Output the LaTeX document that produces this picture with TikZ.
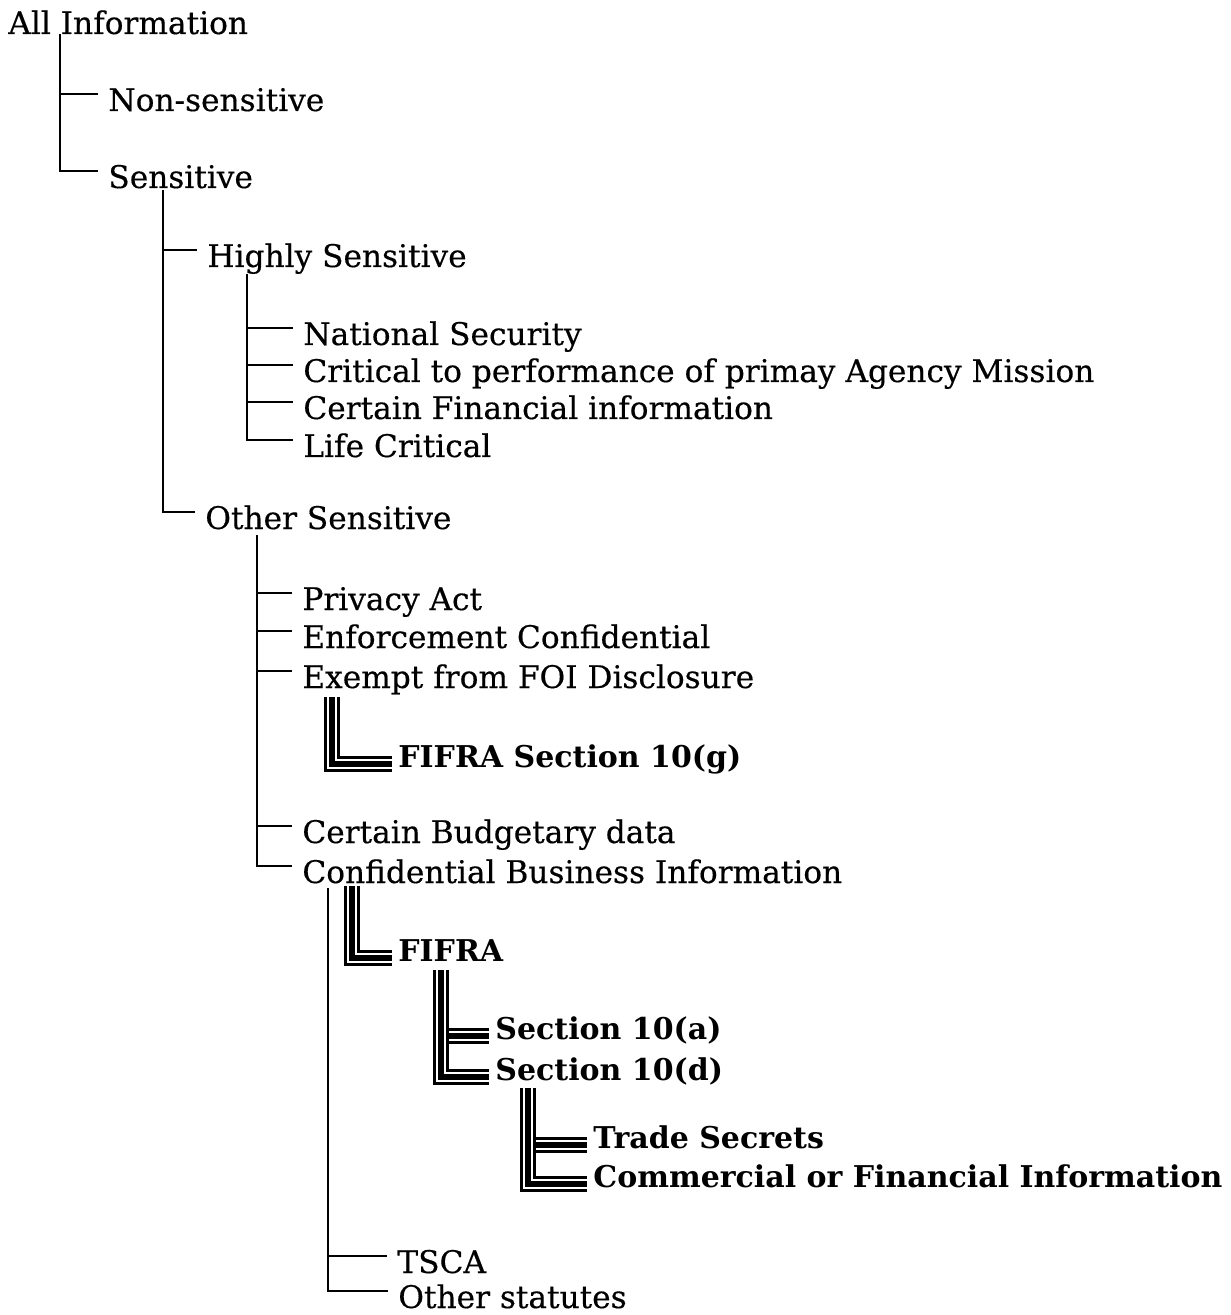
\documentclass[tikz,border=0pt]{standalone}
\usepackage{fontspec}
\setmainfont{DejaVu Serif}[UprightFeatures={FakeBold=0.4}]

\newcommand{\entryfont}{\fontsize{15.6}{18}\selectfont}
\newcommand{\subfont}{\fontsize{15}{18}\selectfont\bfseries}

\tikzset{
  entry/.style={anchor=base west, inner xsep=5pt, inner ysep=0pt,
                text height=17pt, text depth=0pt, font=\entryfont},
  subentry/.style={entry, inner xsep=3pt, text height=3pt, font=\subfont},
  branch/.style={line width=1.4pt},
  triple/.style={draw=white, line width=5pt,
                 preaction={draw=black, line width=8pt},
                 postaction={draw=black, line width=3pt}},
}

\begin{document}
\begin{tikzpicture}[x=0.5pt, y=-0.5pt]
    \useasboundingbox (0,0) rectangle (1230,1315);

    %% top level
    \node[entry] (allinfo) at (-2,34) {All Information};
    \coordinate (allinfo-stem) at (60,34);
    \node[entry] (nonsens) at (98,111) {Non-sensitive};
    \node[entry] (sens) at (98,188) {Sensitive};
    \draw[branch] (allinfo-stem |- nonsens.west) -- (nonsens.west);
    \draw[branch] (allinfo-stem) |- (sens.west);

    %% sensitive
    \coordinate (sens-stem) at (163,190);
    \node[entry] (highly) at (197,267) {Highly Sensitive};
    \node[entry] (other) at (195,529) {Other Sensitive};
    \draw[branch] (sens-stem |- highly.west) -- (highly.west);
    \draw[branch] (sens-stem) |- (other.west);

    %% highly sensitive
    \coordinate (highly-stem) at (247,274);
    \node[entry] (natsec) at (293,345) {National Security};
    \node[entry] (critical) at (293,382) {Critical to performance of primay Agency Mission};
    \node[entry] (finance) at (293,419) {Certain Financial information};
    \node[entry] (life) at (293,457) {Life Critical};
    \foreach \n in {natsec, critical, finance}
      \draw[branch] (highly-stem |- \n.west) -- (\n.west);
    \draw[branch] (highly-stem) |- (life.west);

    %% other sensitive
    \coordinate (other-stem) at (257,535);
    \node[entry] (privacy) at (292,610) {Privacy Act};
    \node[entry] (enforce) at (292,648) {Enforcement Confidential};
    \node[entry] (exempt) at (292,688) {Exempt from FOI Disclosure};
    \node[entry] (budget) at (292,843) {Certain Budgetary data};
    \node[entry] (cbi) at (292,883) {Confidential Business Information};
    \foreach \n in {privacy, enforce, exempt, budget}
      \draw[branch] (other-stem |- \n.west) -- (\n.west);
    \draw[branch] (other-stem) |- (cbi.west);

    %% exempt from FOI
    \coordinate (exempt-stem) at (332,697);
    \node[subentry] (fifrag) at (392,767) {FIFRA Section 10(g)};
    \draw[triple] (exempt-stem) |- (fifrag.west);

    %% confidential business information
    \coordinate (cbi-stem) at (328,888);
    \coordinate (cbi-sub) at (352,886);
    \node[subentry] (fifra) at (392,961) {FIFRA};
    \node[entry] (tsca) at (387,1273) {TSCA};
    \node[entry] (statutes) at (388,1308) {Other statutes};
    \draw[branch] (cbi-stem |- tsca.west) -- (tsca.west);
    \draw[branch] (cbi-stem) |- (statutes.west);
    \draw[triple] (cbi-sub) |- (fifra.west);

    %% FIFRA
    \coordinate (fifra-stem) at (441,970);
    \node[subentry] (seca) at (489,1039) {Section 10(a)};
    \node[subentry] (secd) at (489,1080) {Section 10(d)};
    \draw[triple] (fifra-stem |- seca.west) -- (seca.west);
    \draw[triple] (fifra-stem) |- (secd.west);

    %% section 10(d)
    \coordinate (secd-stem) at (528,1088);
    \node[subentry] (trade) at (587,1148) {Trade Secrets};
    \node[subentry] (commerce) at (587,1187) {Commercial or Financial Information};
    \draw[triple] (secd-stem |- trade.west) -- (trade.west);
    \draw[triple] (secd-stem) |- (commerce.west);
\end{tikzpicture}
\end{document}
